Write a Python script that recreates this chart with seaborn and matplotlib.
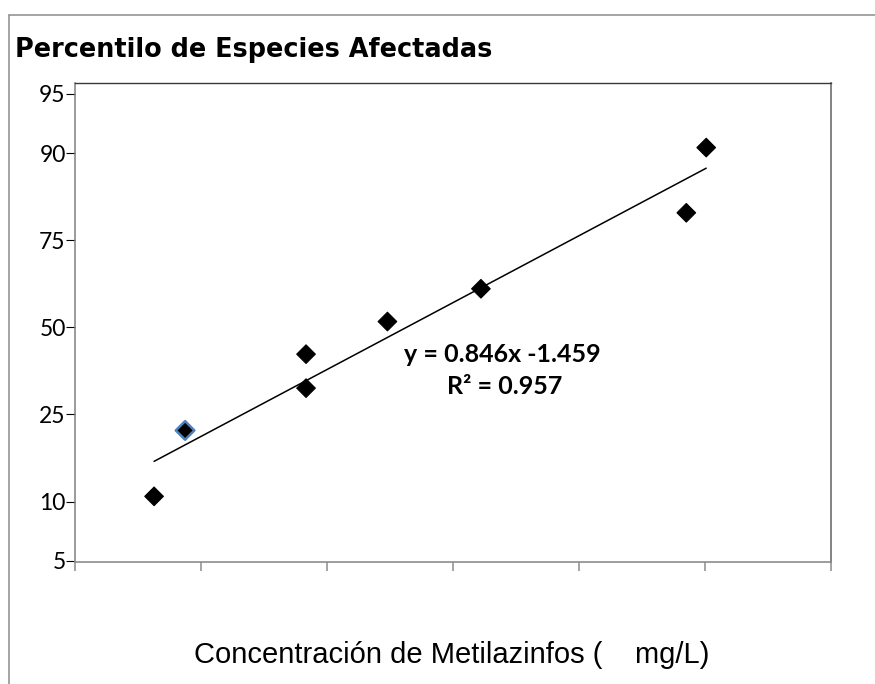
import numpy as np
import pandas as pd
import matplotlib
matplotlib.use("Agg")
import matplotlib.pyplot as plt
import seaborn as sns
from matplotlib.lines import Line2D

# valores (x en unidades del eje, una unidad por marca)
concentracion = [-0.370, -0.124, 0.836, 0.836, 1.482, 2.224, 3.854, 4.012]
percentil = [10.6, 21.4, 31.7, 41.6, 51.8, 61.9, 80.9, 90.6]
borde = ['black', '#4f81bd', 'black', 'black', 'black', 'black', 'black', 'black']
grosor_borde = [0.8, 1.8, 0.8, 0.8, 0.8, 0.8, 0.8, 0.8]

ticks_y = [5, 10, 25, 50, 75, 90, 95]
ticks_x = [-1, 0, 1, 2, 3, 4, 5]

titulo = "Percentilo de Especies Afectadas"
etiqueta_x = "Concentración de Metilazinfos (    mg/L)"
ecuacion = "y = 0.846x -1.459"
r2 = "R² = 0.957"


def logit(p):
    p = np.asarray(p, dtype=float)
    return np.log(p / (100 - p))


df = pd.DataFrame({'x': concentracion, 'p': percentil})
df['logit'] = logit(df['p'])

sns.set_style("white")
plt.rcParams['font.family'] = ['Lato', 'DejaVu Sans']
plt.rcParams['text.color'] = 'black'
plt.rcParams['ytick.labelcolor'] = 'black'

fig = plt.figure(figsize=(8.75, 6.84), dpi=100)
ax = fig.add_axes([74.7 / 875, 1 - 562 / 684, 756 / 875, 479 / 684])

# recta de ajuste (mínimos cuadrados en escala logit)
sns.regplot(data=df, x='x', y='logit', ci=None, scatter=False, truncate=True,
            line_kws={'color': 'black', 'lw': 1.1}, ax=ax)
sns.scatterplot(data=df, x='x', y='logit', marker='D', s=90, color='black',
                edgecolor=borde, linewidth=grosor_borde, ax=ax, zorder=3)

ax.set_xlim(-1, 5)
ax.set_ylim(-2.96, 3.08)
ax.set_xticks(ticks_x)
ax.set_xticklabels([])
ax.set_yticks(logit(ticks_y))
ax.set_yticklabels([str(t) for t in ticks_y])
ax.set_xlabel('')
ax.set_ylabel('')

ax.tick_params(axis='y', left=True, direction='out', length=6.5, width=0.8,
               color='black', pad=0, labelsize=16.5, labelcolor='black')
ax.tick_params(axis='x', bottom=True, direction='out', length=6.5, width=1.1,
               color='#8c8c8c')

ax.spines['left'].set_color('#7f7f7f')
ax.spines['left'].set_linewidth(1.1)
ax.spines['bottom'].set_color('#8c8c8c')
ax.spines['bottom'].set_linewidth(1.2)
ax.spines['top'].set_color('#3a3a3a')
ax.spines['top'].set_linewidth(1.0)
ax.spines['right'].set_color('#6e6e6e')
ax.spines['right'].set_linewidth(1.2)

ax.text(502 / 875, 1 - 354 / 684, ecuacion, transform=fig.transFigure,
        ha='center', va='center', fontsize=18, fontweight='bold', color='black')
ax.text(505 / 875, 1 - 387 / 684, r2, transform=fig.transFigure,
        ha='center', va='center', fontsize=18, fontweight='bold', color='black')

fig.text(15 / 875, 1 - 57 / 684, titulo, fontsize=18.4, fontweight='bold',
         family='DejaVu Sans', va='baseline', color='black')
fig.text(452 / 875, 1 - 655 / 684, etiqueta_x, ha='center', va='center',
         fontsize=21, family=['Liberation Sans Narrow', 'Liberation Sans'],
         color='black')

# marco gris del área del gráfico
fig.add_artist(Line2D([9 / 875, 1], [1 - 15 / 684, 1 - 15 / 684],
                      transform=fig.transFigure, color='#8c8c8c', lw=1.1))
fig.add_artist(Line2D([9 / 875, 9 / 875], [1 - 15 / 684, 0],
                      transform=fig.transFigure, color='#8c8c8c', lw=1.1))

fig.savefig('out.png', dpi=100)
